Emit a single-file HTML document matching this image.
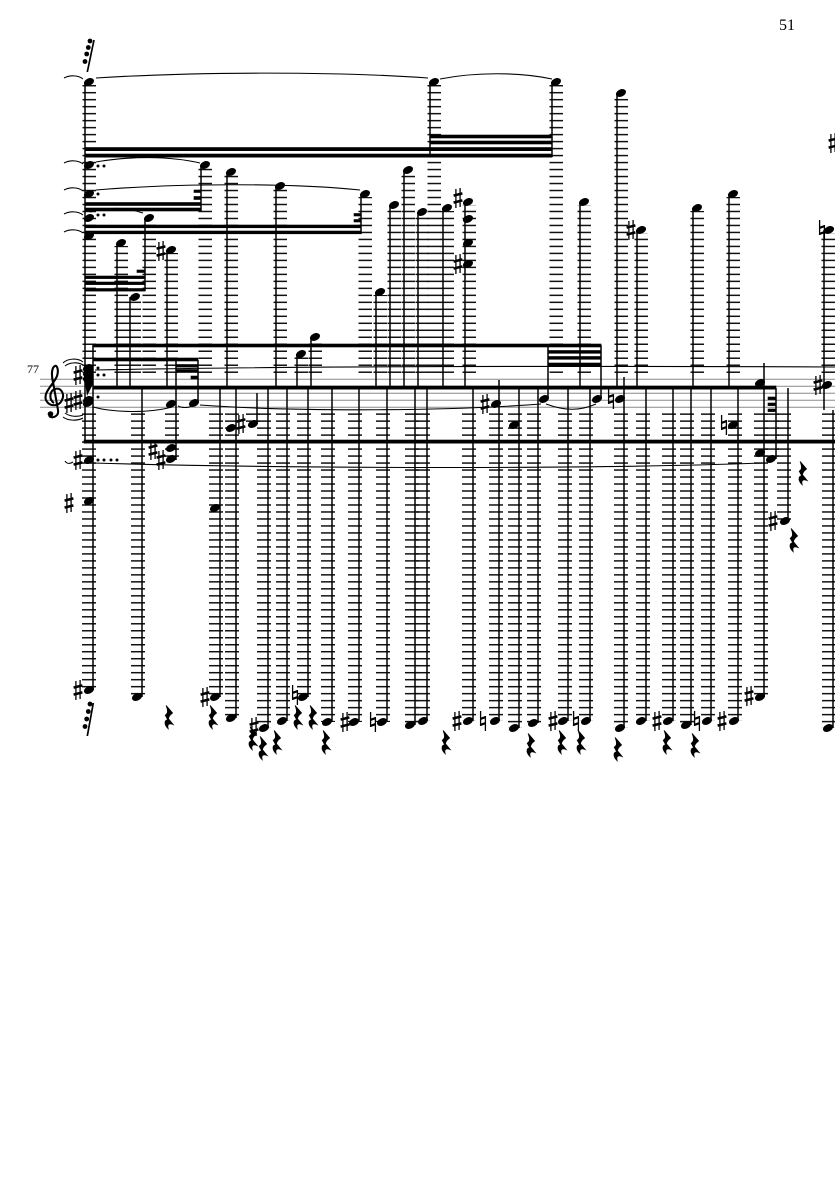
<!DOCTYPE html>
<html><head><meta charset="utf-8"><title>Score page 51</title>
<style>
html,body{margin:0;padding:0;background:#fff;width:835px;height:1181px;overflow:hidden}
svg{display:block}
text{font-family:"Liberation Serif",serif;fill:#000}
</style></head><body>
<svg width="835" height="1181" viewBox="0 0 835 1181" xmlns="http://www.w3.org/2000/svg">
<defs>
<pattern id="L" patternUnits="userSpaceOnUse" x="0" y="378.45" width="1000" height="6.988"><rect width="1000" height="1.5" fill="#111"/></pattern>
<g id="n"><ellipse rx="5.3" ry="3.6" transform="rotate(-25)" fill="#000"/></g>
<g id="s" stroke="#000" fill="none"><path d="M-2.1-9V10M2.1-10V9" stroke-width="1.3"/><path d="M-4.4-2.4L4.4-4.6M-4.4 4.6L4.4 2.4" stroke-width="2.5"/></g>
<g id="h" stroke="#000" fill="none"><path d="M-2.4-10V5M2.4-5V10" stroke-width="1.3"/><path d="M-2.4-2.2L2.4-3.8M-2.4 3.8L2.4 2.2" stroke-width="2.2"/></g>
<g id="r" transform="scale(1.15)"><path d="M-2.5-10L3-3.5C1-2-.5 0-.5 1.5L3.5 6.5C1 5.5-2 5.5-.8 10C-4 7-4.5 3-1 2.5L-3.2-1.5C-1-3-.5-5-2.5-10Z" fill="#000" stroke="#000" stroke-width=".8"/></g>
</defs>

<!-- page number / bar number -->
<text x="779" y="30" font-size="16">51</text>
<text x="27" y="373" font-size="12">77</text>

<!-- staff -->
<g stroke="#8a8a8a" stroke-width="1">
<path d="M40 379.3H835M40 386.3H835M40 393.3H835M40 400.3H835M40 407.3H835"/>
</g>

<!-- upper ledger columns -->
<g fill="url(#L)">
<rect x="82.5" y="85" width="13.5" height="288"/>
<rect x="114.5" y="246" width="13.5" height="127"/>
<rect x="127.5" y="300" width="13.5" height="73"/>
<rect x="142.5" y="221" width="13.5" height="152"/>
<rect x="164.5" y="253" width="13.5" height="120"/>
<rect x="198.5" y="168" width="13.5" height="205"/>
<rect x="224.5" y="175" width="13.5" height="198"/>
<rect x="273.5" y="189" width="13.5" height="184"/>
<rect x="294.5" y="357" width="13.5" height="16"/>
<rect x="308.5" y="340" width="13.5" height="33"/>
<rect x="358.5" y="197" width="13.5" height="176"/>
<rect x="373.5" y="295" width="13.5" height="78"/>
<rect x="387.5" y="208" width="13.5" height="165"/>
<rect x="401.5" y="173" width="13.5" height="200"/>
<rect x="415.5" y="215" width="13.5" height="158"/>
<rect x="427.5" y="85" width="13.5" height="288"/>
<rect x="440.5" y="211" width="13.5" height="162"/>
<rect x="462.5" y="205" width="13.5" height="168"/>
<rect x="549.5" y="85" width="13.5" height="288"/>
<rect x="577.5" y="205" width="13.5" height="168"/>
<rect x="614.5" y="96" width="13.5" height="277"/>
<rect x="634.5" y="233" width="13.5" height="140"/>
<rect x="690.5" y="211" width="13.5" height="162"/>
<rect x="726.5" y="197" width="13.5" height="176"/>
<rect x="821.5" y="233" width="13.5" height="140"/>
</g>

<!-- lower ledger columns -->
<g fill="url(#L)">
<rect x="82" y="413" width="14" height="277"/>
<rect x="131" y="413" width="14" height="284"/>
<rect x="165" y="413" width="14" height="47"/>
<rect x="209" y="413" width="14" height="284"/>
<rect x="225" y="413" width="14" height="305"/>
<rect x="246" y="413" width="14" height="11"/>
<rect x="257" y="413" width="14" height="315"/>
<rect x="276" y="413" width="14" height="308"/>
<rect x="297" y="413" width="14" height="284"/>
<rect x="321" y="413" width="14" height="309"/>
<rect x="348" y="413" width="14" height="309"/>
<rect x="376" y="413" width="14" height="309"/>
<rect x="405" y="413" width="14" height="312"/>
<rect x="416" y="413" width="14" height="308"/>
<rect x="462" y="413" width="14" height="308"/>
<rect x="489" y="413" width="14" height="308"/>
<rect x="508" y="413" width="14" height="315"/>
<rect x="527" y="413" width="14" height="310"/>
<rect x="558" y="413" width="14" height="308"/>
<rect x="579" y="413" width="14" height="308"/>
<rect x="614" y="413" width="14" height="315"/>
<rect x="636" y="413" width="14" height="308"/>
<rect x="662" y="413" width="14" height="308"/>
<rect x="680" y="413" width="14" height="312"/>
<rect x="701" y="413" width="14" height="308"/>
<rect x="728" y="413" width="14" height="308"/>
<rect x="754" y="413" width="14" height="284"/>
<rect x="765" y="413" width="14" height="46"/>
<rect x="777" y="413" width="14" height="108"/>
<rect x="822" y="413" width="14" height="315"/>
</g>

<!-- stems -->
<g stroke="#000" stroke-width="1.5" fill="none">
<path d="M85 82V443M93 345V690"/>
<path d="M117 243V388M130 297V388M145 218V291M167 250V388M201 165V211M227 172V388M276 186V388M297 354V388M311 337V388M361 194V234M376 292V388M390 205V388M404 170V388M418 212V388M430 82V157M443 208V388M465 202V388M552 82V157M580 202V388M617 93V388M637 230V388M693 208V388M729 194V388"/>
<path d="M176 360V460M198 360V403M548 345V399M601 345V399M624 377V728"/>
<path d="M142 388V697M220 388V697M236 388V718M257 393V424M268 388V728M287 388V721M308 388V697M332 388V722M359 388V722M387 388V722M415 388V725M427 388V721M473 388V721M499 380V721M519 388V728M538 388V723M568 388V721M590 388V721M646 388V721M673 388V721M691 388V725M711 388V721M738 388V721M764 363V697M776 388V459M788 388V521M824 230V410M833 410V728"/>
<path d="M94 40L87.3 72M93.3 703L87.3 736" stroke-width="1.7"/>
</g>

<!-- beams -->
<g fill="#000" stroke="#000" stroke-width=".6">
<rect x="85" y="147.5" width="467" height="3.2"/>
<rect x="85" y="154" width="467" height="3.2"/>
<rect x="430" y="135" width="122" height="3"/>
<rect x="430" y="141" width="122" height="3"/>
<rect x="85" y="202.5" width="116" height="3"/>
<rect x="85" y="208" width="116" height="3"/>
<rect x="194" y="190" width="7" height="2.5"/>
<rect x="194" y="196.5" width="7" height="3"/>
<rect x="85" y="225" width="276" height="2.8"/>
<rect x="85" y="231" width="276" height="2.8"/>
<rect x="354" y="213.5" width="7" height="2.5"/>
<rect x="354" y="219.5" width="7" height="2.5"/>
<rect x="85" y="276" width="60" height="2.6"/>
<rect x="85" y="282" width="60" height="2.6"/>
<rect x="85" y="288.5" width="60" height="2.6"/>
<rect x="137" y="270" width="8" height="2.5"/>
<rect x="93" y="344" width="508" height="3"/>
<rect x="548" y="350.5" width="53" height="2.8"/>
<rect x="548" y="356.5" width="53" height="2.8"/>
<rect x="548" y="363" width="53" height="3"/>
<rect x="93" y="358" width="105" height="3"/>
<rect x="176" y="364.5" width="22" height="2.6"/>
<rect x="176" y="369.5" width="22" height="3"/>
<rect x="191" y="376" width="7" height="3"/>
<rect x="93" y="386" width="683" height="3.2"/>
<rect x="84" y="440" width="751" height="3.2"/>
<rect x="768" y="397" width="8" height="2.6"/>
<rect x="768" y="403" width="8" height="2.6"/>
<rect x="768" y="409" width="8" height="2.6"/>
</g>

<!-- ties -->
<g stroke="#000" stroke-width="1.1" fill="none">
<path d="M64 78C70 75 78 75 83 79M64 163C70 160 78 160 83 164M64 190C70 187 78 187 83 191M64 214C70 211 78 211 83 215M64 232C70 229 78 229 83 233"/>
<path d="M96 78C190 72 330 71 428 78"/>
<path d="M440 79C475 72 520 72 552 79"/>
<path d="M96 162C130 156 170 156 200 163"/>
<path d="M96 190C180 183 290 183 360 190"/>
<path d="M90 212C110 207 125 207 143 213"/>
<path d="M95 370C300 366 600 366 835 367"/>
<path d="M93 407C115 413 150 413 172 407M178 406C182 408 188 408 192 406"/>
<path d="M200 405C300 412 450 411 541 404"/>
<path d="M546 404C565 411 580 411 596 404"/>
<path d="M93 463C300 469 600 469 762 463"/>
<path d="M65 461C67 464 70 464 73 462"/>
<path d="M63 363C68 358 78 358 83 362M65 366C70 362 78 362 83 365"/>
<path d="M63 417C68 421 78 421 83 418M65 413C70 417 78 417 83 415"/>
</g>

<!-- clef -->
<path d="M54 403C49 400 49 391 55 389C61 387 65 394 62 400C59 407 49 407 46 400C43 392 54 384 57 376C59 370 57 365 55 366C52 367 51 374 53 382L58 410C59 416 53 419 49 416" fill="none" stroke="#000" stroke-width="2.1"/>
<circle cx="50.5" cy="414" r="2.8" fill="#000"/>

<!-- noteheads upper -->
<g>
<use href="#n" x="89" y="82"/><use href="#n" x="89" y="165"/><use href="#n" x="89" y="194"/><use href="#n" x="89" y="218"/><use href="#n" x="89" y="236"/>
<use href="#n" x="121" y="243"/><use href="#n" x="135" y="297"/><use href="#n" x="149" y="218"/><use href="#n" x="171" y="250"/>
<use href="#n" x="205" y="165"/><use href="#n" x="231" y="172"/><use href="#n" x="280" y="186"/><use href="#n" x="301" y="354"/><use href="#n" x="315" y="337"/>
<use href="#n" x="365" y="194"/><use href="#n" x="380" y="292"/><use href="#n" x="394" y="205"/><use href="#n" x="408" y="170"/><use href="#n" x="422" y="212"/>
<use href="#n" x="434" y="82"/><use href="#n" x="447" y="208"/>
<use href="#n" x="468" y="202"/><use href="#n" x="468" y="219"/><use href="#n" x="468" y="243"/><use href="#n" x="468" y="264"/>
<use href="#n" x="556" y="82"/><use href="#n" x="584" y="202"/><use href="#n" x="621" y="93"/><use href="#n" x="641" y="230"/><use href="#n" x="697" y="208"/><use href="#n" x="733" y="194"/><use href="#n" x="829" y="230"/>
</g>
<!-- noteheads staff -->
<g>
<rect x="84" y="366" width="9" height="16" fill="#000"/><path d="M85 382L93 372V384L87 396Z" fill="#000"/>
<use href="#n" x="88" y="368"/><use href="#n" x="88" y="373"/><use href="#n" x="88" y="378"/><use href="#n" x="88" y="400"/><use href="#n" x="88" y="403"/>
<use href="#n" x="171" y="404"/><use href="#n" x="194" y="403"/>
<use href="#n" x="231" y="428"/><use href="#n" x="253" y="424"/>
<use href="#n" x="496" y="404"/><use href="#n" x="514" y="425"/><use href="#n" x="544" y="399"/><use href="#n" x="597" y="399"/><use href="#n" x="620" y="399"/>
<use href="#n" x="733" y="425"/><use href="#n" x="760" y="383"/><use href="#n" x="760" y="453"/><use href="#n" x="771" y="459"/><use href="#n" x="827" y="385"/>
<use href="#n" x="171" y="448"/><use href="#n" x="171" y="459"/>
</g>
<!-- noteheads lower -->
<g>
<use href="#n" x="89" y="460"/><use href="#n" x="89" y="501"/><use href="#n" x="89" y="690"/>
<use href="#n" x="137" y="697"/><use href="#n" x="215" y="508"/><use href="#n" x="215" y="697"/><use href="#n" x="231" y="718"/><use href="#n" x="264" y="728"/>
<use href="#n" x="282" y="721"/><use href="#n" x="303" y="697"/><use href="#n" x="327" y="722"/><use href="#n" x="354" y="722"/><use href="#n" x="382" y="722"/>
<use href="#n" x="410" y="725"/><use href="#n" x="423" y="721"/><use href="#n" x="468" y="721"/><use href="#n" x="495" y="721"/><use href="#n" x="514" y="728"/><use href="#n" x="533" y="723"/>
<use href="#n" x="563" y="721"/><use href="#n" x="586" y="721"/><use href="#n" x="620" y="728"/><use href="#n" x="641" y="721"/><use href="#n" x="668" y="721"/><use href="#n" x="686" y="725"/><use href="#n" x="707" y="721"/><use href="#n" x="734" y="721"/><use href="#n" x="760" y="697"/><use href="#n" x="785" y="521"/><use href="#n" x="828" y="728"/>
</g>

<!-- dots -->
<g fill="#000">
<circle cx="98" cy="166" r="1.5"/><circle cx="104" cy="166" r="1.5"/>
<circle cx="98" cy="194" r="1.5"/>
<circle cx="98" cy="215" r="1.5"/><circle cx="104" cy="215" r="1.5"/>
<circle cx="98" cy="368" r="1.5"/><circle cx="98" cy="375" r="1.5"/><circle cx="104" cy="375" r="1.5"/><circle cx="98" cy="397" r="1.5"/>
<circle cx="98" cy="460" r="1.5"/><circle cx="104" cy="460" r="1.5"/><circle cx="111" cy="460" r="1.5"/><circle cx="117" cy="460" r="1.5"/>
<circle cx="90" cy="41" r="2.4"/><circle cx="88.3" cy="47.5" r="2.4"/><circle cx="86.7" cy="54" r="2.4"/><circle cx="85" cy="61.5" r="2.4"/>
<circle cx="90" cy="704" r="2.4"/><circle cx="88.3" cy="711.5" r="2.4"/><circle cx="86.7" cy="719" r="2.4"/><circle cx="85" cy="726.5" r="2.4"/>
</g>

<!-- sharps -->
<g>
<use href="#s" x="161" y="251"/><use href="#s" x="458" y="198"/><use href="#s" x="458" y="264"/><use href="#s" x="631" y="230"/><use href="#s" x="833" y="143"/>
<use href="#s" x="78" y="375"/><use href="#s" x="69" y="403"/><use href="#s" x="78" y="400"/>
<use href="#s" x="78" y="460"/><use href="#s" x="69" y="503"/><use href="#s" x="78" y="690"/>
<use href="#s" x="153" y="450"/><use href="#s" x="161" y="460"/><use href="#s" x="241" y="424"/>
<use href="#s" x="205" y="697"/><use href="#s" x="254" y="727"/><use href="#s" x="345" y="722"/>
<use href="#s" x="485" y="404"/><use href="#s" x="818" y="385"/><use href="#s" x="773" y="521"/>
<use href="#s" x="457" y="721"/><use href="#s" x="553" y="721"/><use href="#s" x="657" y="721"/><use href="#s" x="722" y="721"/><use href="#s" x="749" y="696"/>
</g>
<!-- naturals -->
<g>
<use href="#h" x="611" y="399"/><use href="#h" x="724" y="425"/><use href="#h" x="822" y="230"/>
<use href="#h" x="295" y="695"/><use href="#h" x="373" y="722"/><use href="#h" x="483" y="721"/><use href="#h" x="576" y="721"/><use href="#h" x="697" y="721"/>
</g>
<!-- rests -->
<g>
<use href="#r" x="169" y="717"/><use href="#r" x="213" y="717"/><use href="#r" x="253" y="738"/><use href="#r" x="263" y="748"/><use href="#r" x="277" y="742"/>
<use href="#r" x="298" y="717"/><use href="#r" x="313" y="717"/><use href="#r" x="326" y="742"/><use href="#r" x="446" y="742"/><use href="#r" x="531" y="745"/>
<use href="#r" x="562" y="742"/><use href="#r" x="581" y="742"/><use href="#r" x="618" y="749"/><use href="#r" x="667" y="742"/><use href="#r" x="695" y="745"/>
<use href="#r" x="803" y="473"/><use href="#r" x="794" y="540"/>
</g>
</svg>
</body></html>
